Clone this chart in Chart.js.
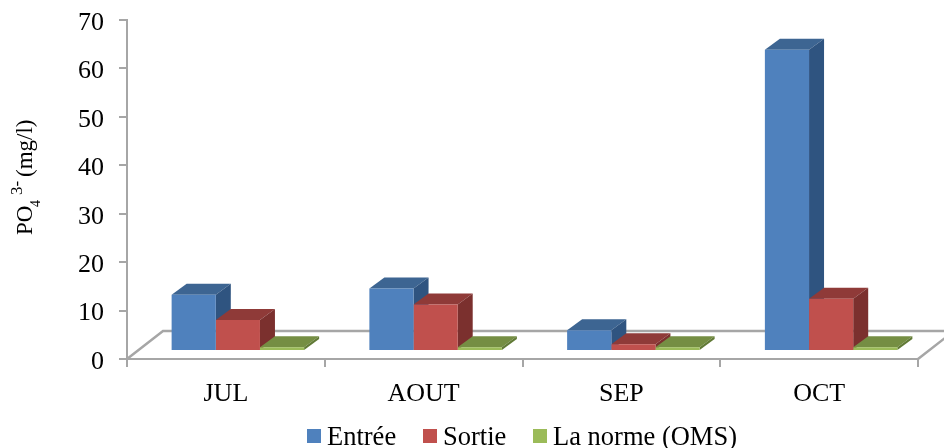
<!DOCTYPE html>
<html>
<head>
<meta charset="utf-8">
<style>
  html, body { margin: 0; padding: 0; background: #fff; }
  #wrap { width: 944px; height: 448px; }
</style>
<script src="https://cdn.jsdelivr.net/npm/chart.js@4/dist/chart.umd.min.js"></script>
</head>
<body>
<div id="wrap"><canvas id="po4Chart" width="944" height="448"></canvas></div>
<script>
const months = ["JUL", "AOUT", "SEP", "OCT"];
const entree = [11.6, 12.9, 4.3, 62.2];
const sortie = [6.4, 9.6, 1.4, 10.8];
const norme = [0.8, 0.8, 0.8, 0.8];
const yTicks = [0, 10, 20, 30, 40, 50, 60, 70];

const FONT = '"Liberation Serif", serif';
const AXIS_GREY = "#a6a6a6";
const front = ["#4f81bd", "#c0504d", "#9bbb59"];
const topFace = ["#3d6592", "#8f3a38", "#758e43"];
const sideFace = ["#2f5480", "#7b302e", "#617a36"];

// fake 3D: floor, then top and side of each bar, library draws the fronts on top
const box3d = {
  id: "box3d",
  beforeDatasetsDraw(chart) {
    const { ctx, chartArea: a } = chart;
    ctx.save();
    ctx.strokeStyle = AXIS_GREY;
    ctx.lineWidth = 2.5;
    ctx.beginPath();
    ctx.moveTo(a.left, a.bottom);
    ctx.lineTo(a.left + 36, a.bottom - 28);
    ctx.lineTo(a.right + 36, a.bottom - 28);
    ctx.lineTo(a.right, a.bottom);
    ctx.stroke();
    ctx.restore();

    ctx.save();
    ctx.translate(12, -8); // bars sit inside the floor, not on the axis
    const dx = 15, dy = 11;
    chart.data.datasets.forEach((ds, i) => {
      chart.getDatasetMeta(i).data.forEach(bar => {
        const { x, y, width, base } = bar.getProps(["x", "y", "width", "base"], true);
        const l = x - width / 2, r = x + width / 2;
        ctx.fillStyle = topFace[i];
        ctx.beginPath();
        ctx.moveTo(l, y);
        ctx.lineTo(l + dx, y - dy);
        ctx.lineTo(r + dx, y - dy);
        ctx.lineTo(r, y);
        ctx.closePath();
        ctx.fill();
        ctx.fillStyle = sideFace[i];
        ctx.beginPath();
        ctx.moveTo(r, y);
        ctx.lineTo(r + dx, y - dy);
        ctx.lineTo(r + dx, base - dy);
        ctx.lineTo(r, base);
        ctx.closePath();
        ctx.fill();
      });
    });
  },
  afterDatasetsDraw(chart) {
    chart.ctx.restore();
  }
};

// y title needs a subscript and superscript, legend needs a tight box/text gap
const labels = {
  id: "labels",
  afterUpdate(chart) {
    // y tick labels sit a little under their tick marks
    chart.scales.y.getLabelItems().forEach(item => { item.options.translation[1] += 3; });
  },
  afterDraw(chart) {
    const { ctx } = chart;
    ctx.save();
    ctx.fillStyle = "#000";
    ctx.textBaseline = "alphabetic";

    ctx.save();
    ctx.translate(32, 235);
    ctx.rotate(-Math.PI / 2);
    ctx.font = "23px " + FONT;
    ctx.fillText("PO", 0, 0);
    ctx.fillText("(mg/l)", 58, 0);
    ctx.font = "14px " + FONT;
    ctx.fillText("4", 28, 8);
    ctx.font = "17px " + FONT;
    ctx.fillText("3-", 40, -10);
    ctx.restore();

    const boxX = [307, 423, 533];
    ctx.font = "26.5px " + FONT;
    chart.data.datasets.forEach((ds, i) => {
      ctx.fillStyle = ds.backgroundColor;
      ctx.fillRect(boxX[i], 429, 14, 14);
      ctx.fillStyle = "#000";
      ctx.fillText(ds.label, boxX[i] + 20, 445);
    });
    ctx.restore();
  }
};

new Chart(document.getElementById("po4Chart"), {
  type: "bar",
  plugins: [box3d, labels],
  data: {
    labels: months,
    datasets: [
      { label: "Entrée", data: entree, backgroundColor: front[0] },
      { label: "Sortie", data: sortie, backgroundColor: front[1] },
      { label: "La norme (OMS)", data: norme, backgroundColor: front[2] }
    ]
  },
  options: {
    responsive: false,
    animation: false,
    layout: { padding: { top: 20, right: 26, left: 0, bottom: 0 } },
    categoryPercentage: 0.67,
    barPercentage: 1,
    clip: false,
    plugins: { legend: { display: false }, tooltip: { enabled: false } },
    scales: {
      x: {
        afterFit: s => { s.height = 89; },
        border: { color: AXIS_GREY, width: 2 },
        grid: { drawOnChartArea: false, color: AXIS_GREY, lineWidth: 2, tickLength: 8 },
        ticks: { color: "#000", font: { family: FONT, size: 26 }, padding: 12, maxRotation: 0 }
      },
      y: {
        min: 0,
        max: 70,
        afterFit: s => { s.width = 127; s.paddingTop = 0; s.paddingBottom = 0; },
        afterBuildTicks: s => { s.ticks = yTicks.map(value => ({ value })); },
        border: { color: AXIS_GREY, width: 2 },
        grid: { drawOnChartArea: false, color: AXIS_GREY, lineWidth: 2, tickLength: 8 },
        ticks: { color: "#000", font: { family: FONT, size: 26 }, padding: 15 }
      }
    }
  }
});
</script>
</body>
</html>
